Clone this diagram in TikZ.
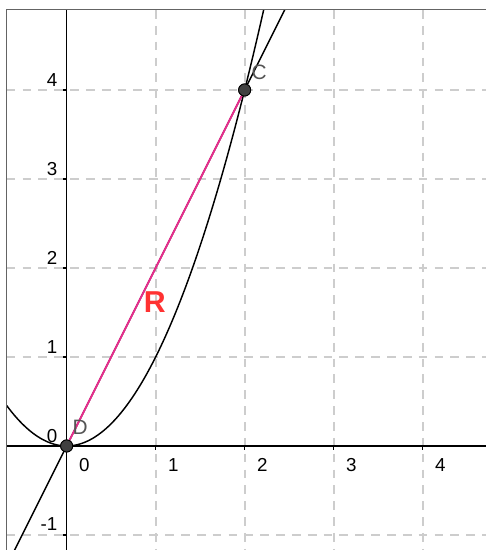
\documentclass[tikz,border=0pt]{standalone}
\usepackage{fontspec}
\setmainfont{Liberation Sans}
\definecolor{gridgray}{RGB}{205,205,205}
\definecolor{framegray}{RGB}{100,100,100}
\definecolor{segpink}{RGB}{230,45,140}
\definecolor{labred}{RGB}{255,50,50}
\definecolor{ptfill}{RGB}{64,64,64}
\definecolor{ptlabel}{RGB}{85,85,85}
\tikzset{
  gridline/.style={draw=gridgray, line width=0.9pt, dash pattern=on 4.2pt off 3.4pt},
  axisline/.style={draw=black, line width=0.7pt},
  curveline/.style={draw=black, line width=0.7pt},
  ticklab/.style={font=\fontsize{9}{10}\selectfont, inner sep=0pt},
  ptdot/.style={circle, fill=ptfill, draw=black, line width=0.4pt, minimum size=5.8pt, inner sep=0pt},
  ptlab/.style={text=ptlabel, font=\fontsize{10}{11}\selectfont, inner sep=0pt},
}
\begin{document}
\begin{tikzpicture}[x=1.5cm,y=1.5cm]
\useasboundingbox (-0.749,-1.169) rectangle (4.711,5.011);
\begin{scope}
\clip (-0.674,-1.169) rectangle (4.711,4.899);
% grid
\foreach \i in {1,2,3,4} \draw[gridline] (\i,4.899) -- (\i,-1.169);
\foreach \j in {-1,1,2,3,4} \draw[gridline] (-0.674,\j) -- (4.711,\j);
% axes
\draw[axisline] (-0.674,0) -- (4.711,0);
\draw[axisline] (0,-1.169) -- (0,4.899);
\foreach \i in {1,2,3,4} \draw[axisline] (\i,0) -- (\i,-0.045);
\foreach \j in {-1,1,2,3,4} \draw[axisline] (0,\j) -- (-0.045,\j);
% parabola and line
\draw[curveline, domain=-0.674:2.215, samples=120, smooth] plot (\x,{\x*\x});
\coordinate (lineLow) at (-0.585,-1.17);
\coordinate (lineHigh) at (2.45,4.9);
\draw[curveline] (lineLow) -- (lineHigh);
\end{scope}
% frame
\draw[framegray, line width=0.5pt] (-0.674,-1.169) -- (-0.674,4.899) -- (4.711,4.899);
% tick labels
\foreach \i in {0,1,2,3,4} \node[ticklab, anchor=west] at (\i+0.135,-0.21) {\i};
\foreach \j in {0,1,2,3,4} \node[ticklab, anchor=east] at (-0.1,\j+0.11) {\j};
\node[ticklab, anchor=east] at (-0.1,-0.88) {-1};
% points
\node[ptdot] (D) at (0,0) {};
\node[ptdot] (C) at (2,4) {};
\draw[segpink, line width=0.95pt] (D) -- (C);
\node[ptdot] at (0,0) {};
\node[ptdot] at (2,4) {};
\node[ptlab] (Dlab) at (0.152,0.208) {D};
\node[ptlab] (Clab) at (2.163,4.202) {C};
\node[text=labred, font=\fontsize{14.5}{15}\selectfont\bfseries, inner sep=0pt] (Rlab) at (0.989,1.618) {R};
\end{tikzpicture}
\end{document}
